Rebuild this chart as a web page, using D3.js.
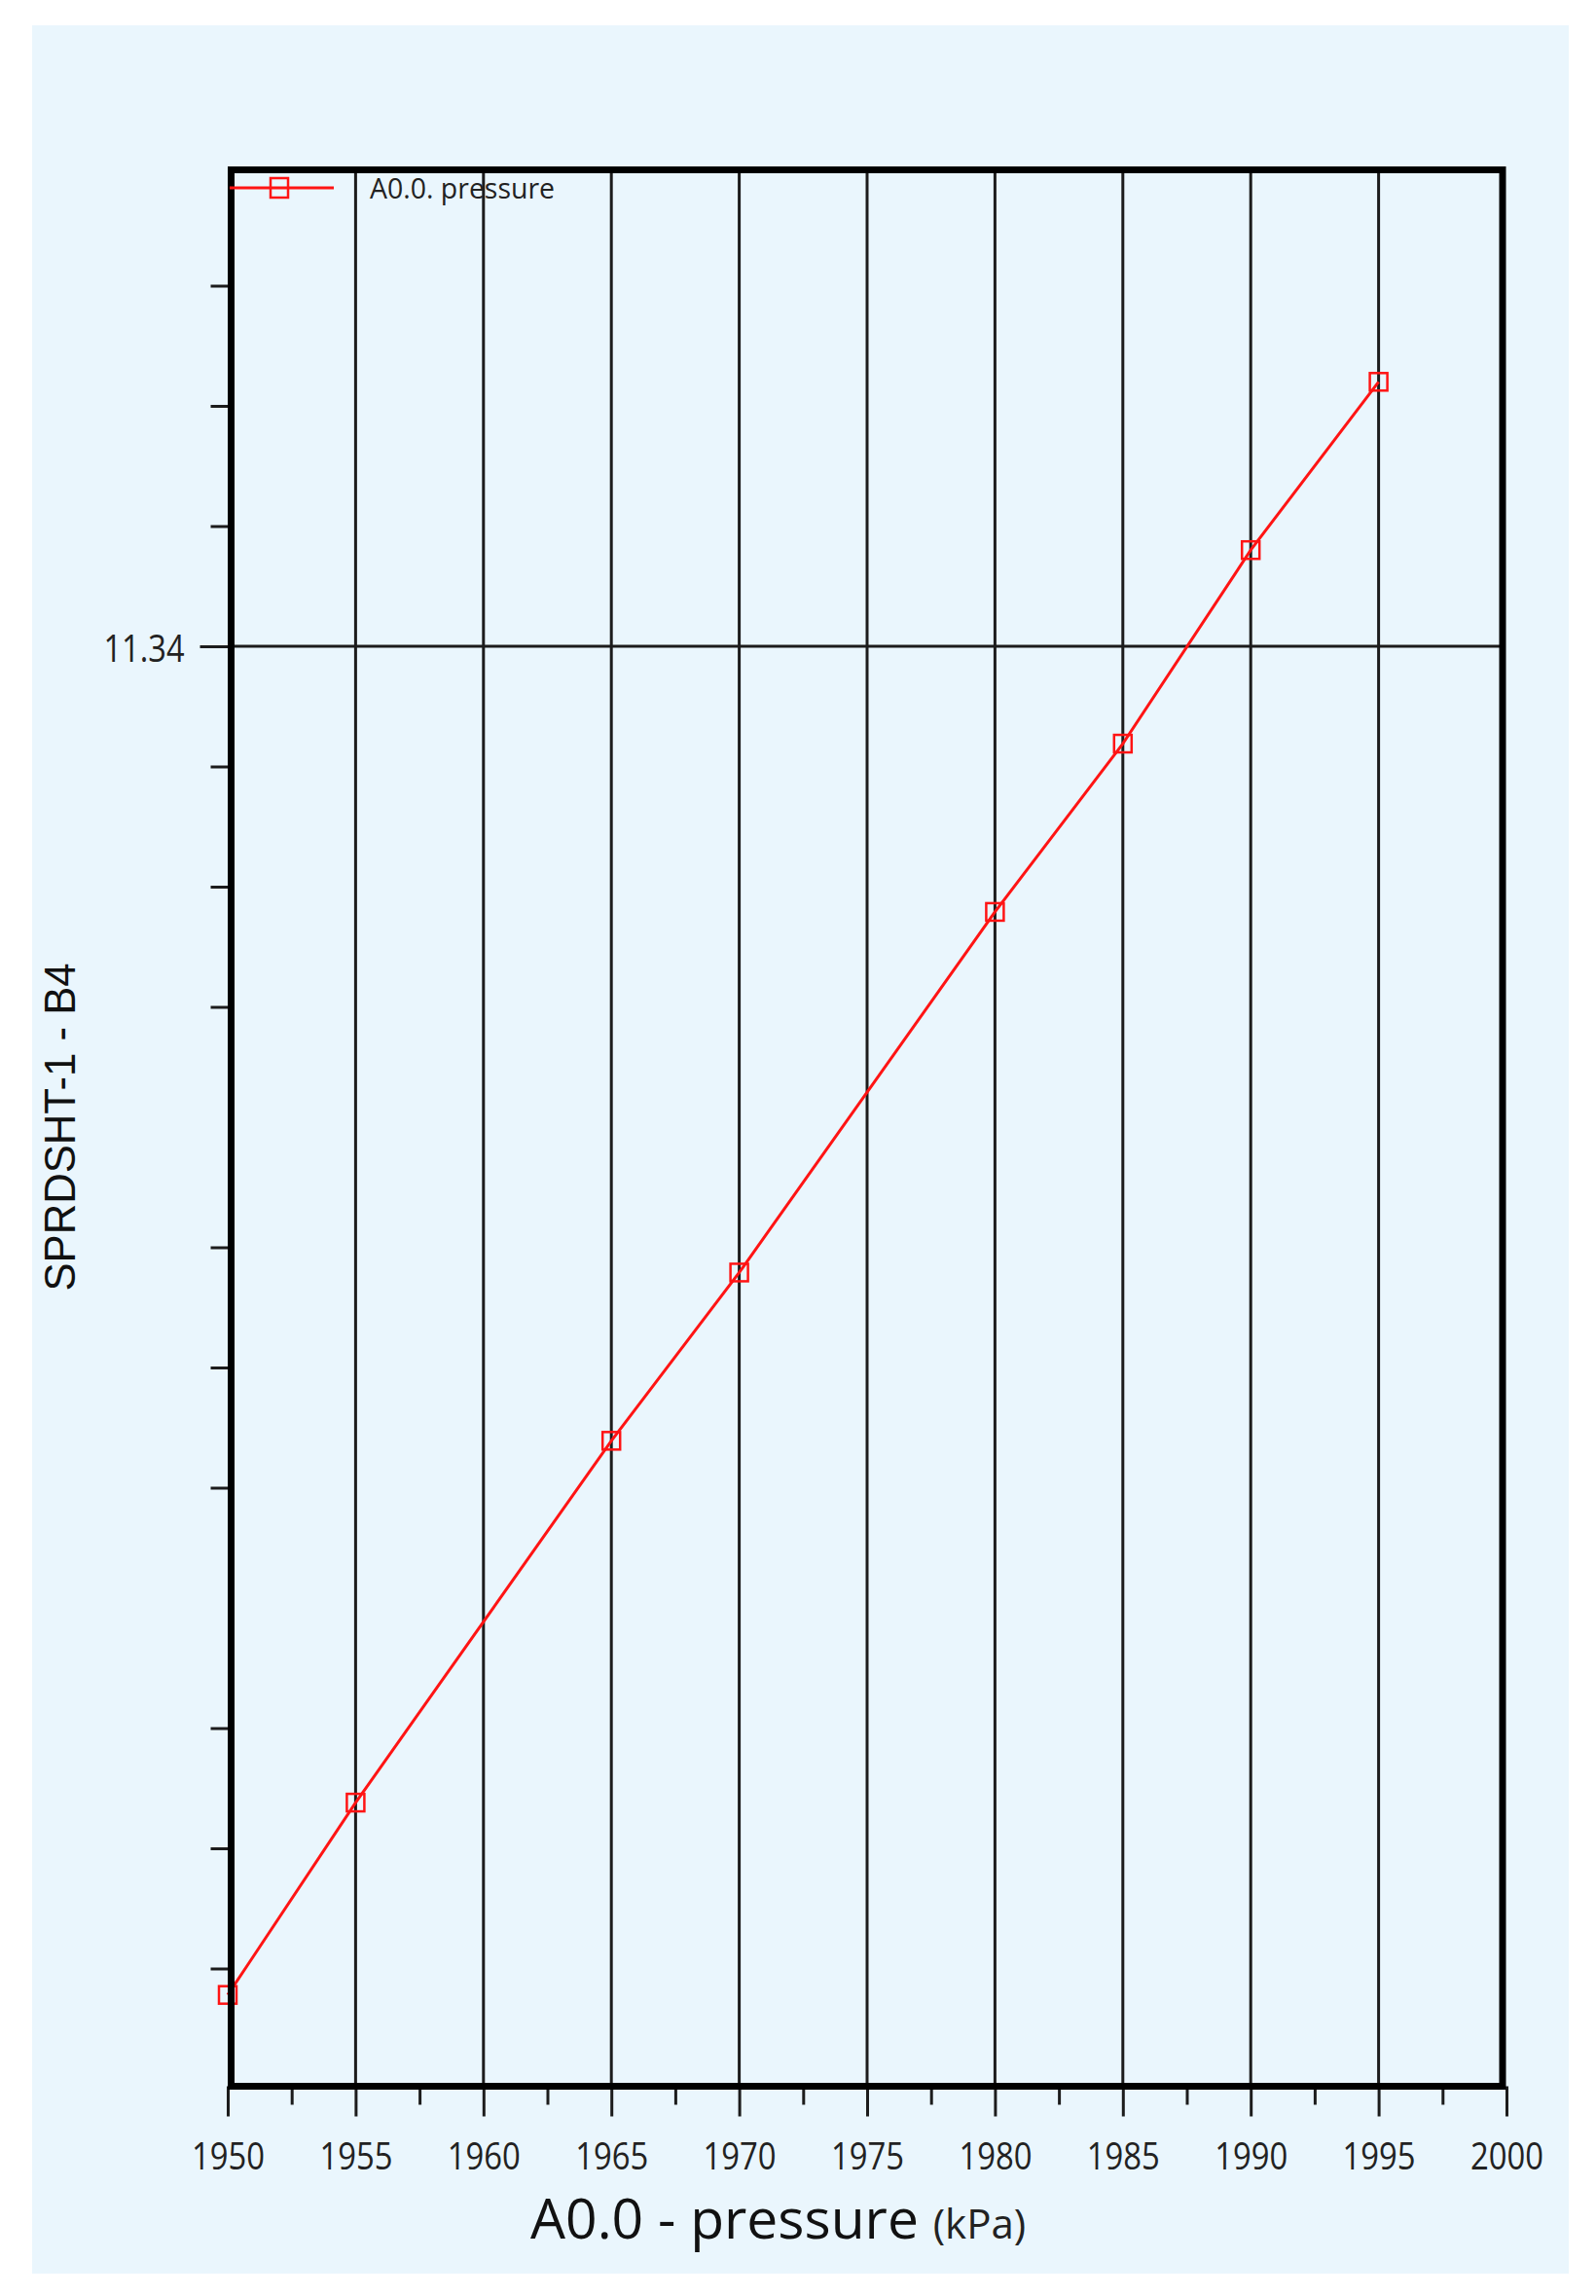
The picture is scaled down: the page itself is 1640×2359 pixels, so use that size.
<!DOCTYPE html>
<html>
<head>
<meta charset="utf-8">
<script src="https://cdn.jsdelivr.net/npm/d3@7"></script>
<style>
  html, body { margin: 0; padding: 0; background: #ffffff; }
  svg { display: block; }
</style>
</head>
<body>
<script>
// ---- data ----
const pressure = [1950, 1955, 1965, 1970, 1980, 1985, 1990, 1995];
const b4Values = [11.2278, 11.2438, 11.2739, 11.2879, 11.3179, 11.3319, 11.3480, 11.3620];
const xMajorTicks = [1950, 1955, 1960, 1965, 1970, 1975, 1980, 1985, 1990, 1995, 2000];
const xMinorTicks = [1952.5, 1957.5, 1962.5, 1967.5, 1972.5, 1977.5, 1982.5, 1987.5, 1992.5, 1997.5];
const yMinorTicks = [11.23, 11.24, 11.25, 11.27, 11.28, 11.29, 11.31, 11.32, 11.33, 11.35, 11.36, 11.37];
const yLabeledTicks = [11.34];
const seriesName = "A0.0. pressure";
const xTitle = "A0.0 - pressure ";
const xUnit = "(kPa)";
const yTitle = "SPRDSHT-1 - B4";

const W = 1640, H = 2359;
const svg = d3.select("body").append("svg").attr("width", W).attr("height", H);

// background panel
svg.append("rect").attr("x", 33).attr("y", 26).attr("width", 1579).attr("height", 2310)
  .attr("fill", "#eaf6fd");

const x = d3.scaleLinear().domain([1950, 2000]).range([234, 1548]);
const y = d3.scaleLinear().domain([11.22, 11.38]).range([2146, 170]);

const frame = { x0: 237.5, x1: 1544, y0: 174.5, y1: 2143.5 };

// vertical gridlines
svg.append("g").selectAll("line").data(xMajorTicks.filter(d => d > 1950 && d < 2000))
  .join("line")
  .attr("x1", d => x(d)).attr("x2", d => x(d))
  .attr("y1", frame.y0).attr("y2", frame.y1)
  .attr("stroke", "#1c1c1c").attr("stroke-width", 3);

// horizontal gridline at labelled tick
svg.append("g").selectAll("line").data(yLabeledTicks).join("line")
  .attr("x1", frame.x0).attr("x2", frame.x1)
  .attr("y1", d => y(d)).attr("y2", d => y(d))
  .attr("stroke", "#1c1c1c").attr("stroke-width", 3);

// x axis major ticks + labels
const xAxisMajor = d3.axisBottom(x).tickValues(xMajorTicks).tickSize(31).tickPadding(28)
  .tickFormat(d3.format("d"));
const gxM = svg.append("g").attr("transform", `translate(0,${frame.y1})`).call(xAxisMajor);
gxM.select(".domain").remove();
gxM.selectAll(".tick line").attr("stroke", "#1c1c1c").attr("stroke-width", 3);
gxM.selectAll(".tick text")
  .attr("font-family", "'Open Sans', sans-serif").attr("font-size", 38)
  .attr("fill", "#222").attr("textLength", 75).attr("lengthAdjust", "spacingAndGlyphs");

// x axis minor ticks
const xAxisMinor = d3.axisBottom(x).tickValues(xMinorTicks).tickSize(19).tickFormat("");
const gxm = svg.append("g").attr("transform", `translate(0,${frame.y1})`).call(xAxisMinor);
gxm.select(".domain").remove();
gxm.selectAll(".tick line").attr("stroke", "#1c1c1c").attr("stroke-width", 3);

// y axis minor ticks
const yAxisMinor = d3.axisLeft(y).tickValues(yMinorTicks).tickSize(21).tickFormat("");
const gym = svg.append("g").attr("transform", `translate(${frame.x0},0)`).call(yAxisMinor);
gym.select(".domain").remove();
gym.selectAll(".tick line").attr("stroke", "#1c1c1c").attr("stroke-width", 3);

// y axis labelled ticks
const yAxisLab = d3.axisLeft(y).tickValues(yLabeledTicks).tickSize(32).tickPadding(16)
  .tickFormat(d3.format(".2f"));
const gyl = svg.append("g").attr("transform", `translate(${frame.x0},0)`).call(yAxisLab);
gyl.select(".domain").remove();
gyl.selectAll(".tick line").attr("stroke", "#1c1c1c").attr("stroke-width", 3);
gyl.selectAll(".tick text")
  .attr("font-family", "'Open Sans', sans-serif").attr("font-size", 38)
  .attr("fill", "#222").attr("dy", "0.4em")
  .attr("textLength", 83).attr("lengthAdjust", "spacingAndGlyphs");

// data line
const pts = pressure.map((p, i) => [p, b4Values[i]]);
svg.append("path").datum(pts)
  .attr("d", d3.line().x(d => x(d[0])).y(d => y(d[1])))
  .attr("fill", "none").attr("stroke", "#ff1414").attr("stroke-width", 3);

const ms = 18;
svg.append("g").selectAll("rect").data(pts).join("rect")
  .attr("x", d => x(d[0]) - ms / 2).attr("y", d => y(d[1]) - ms / 2)
  .attr("width", ms).attr("height", ms)
  .attr("fill", "none").attr("stroke", "#ff1414").attr("stroke-width", 2.5);

// frame
svg.append("rect")
  .attr("x", frame.x0).attr("y", frame.y0)
  .attr("width", frame.x1 - frame.x0).attr("height", frame.y1 - frame.y0)
  .attr("fill", "none").attr("stroke", "#000").attr("stroke-width", 7);

// legend
const lg = svg.append("g");
lg.append("line").attr("x1", 236).attr("x2", 343).attr("y1", 193).attr("y2", 193)
  .attr("stroke", "#ff1414").attr("stroke-width", 3);
lg.append("rect").attr("x", 287 - ms / 2).attr("y", 193 - ms / 2 - 1)
  .attr("width", ms).attr("height", ms + 2)
  .attr("fill", "none").attr("stroke", "#ff1414").attr("stroke-width", 2.5);
lg.append("text").attr("x", 380).attr("y", 204)
  .attr("font-family", "'Open Sans', sans-serif").attr("font-size", 30)
  .attr("fill", "#222").attr("textLength", 190).attr("lengthAdjust", "spacingAndGlyphs")
  .text(seriesName);

// x title
const xt = svg.append("text").attr("x", 545).attr("y", 2300)
  .attr("font-family", "'Open Sans', sans-serif").attr("fill", "#111");
xt.append("tspan").attr("font-size", 57).text(xTitle);
xt.append("tspan").attr("font-size", 42).attr("fill", "#222").text(xUnit);

// y title
svg.append("text")
  .attr("transform", "translate(77,1158) rotate(-90)")
  .attr("text-anchor", "middle")
  .attr("font-family", "'Liberation Sans', Arial, sans-serif").attr("font-size", 45)
  .attr("fill", "#111").attr("textLength", 337).attr("lengthAdjust", "spacingAndGlyphs")
  .text(yTitle);
</script>
</body>
</html>
